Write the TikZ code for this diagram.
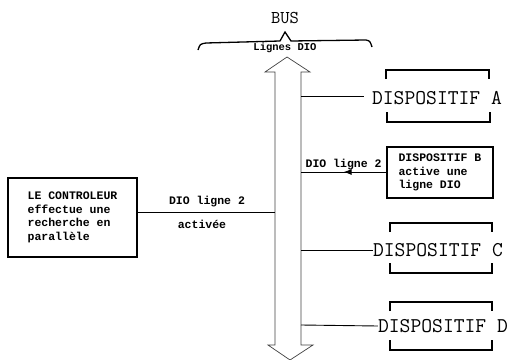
\documentclass[tikz,border=0pt]{standalone}
\usepackage{fontspec}
\newfontfamily\cour{Liberation Mono}
\usetikzlibrary{arrows.meta,decorations.markings}
\tikzset{
  big/.style={font=\ttfamily\fontsize{21}{23}\selectfont, inner sep=0pt},
  small/.style={font=\cour\bfseries\fontsize{11.5}{13.5}\selectfont, inner sep=0pt},
  boxed/.style={draw, line width=1.6pt, align=left, inner xsep=8pt, inner ysep=5pt},
  wire/.style={line width=0.9pt},
  brk/.style={line width=1.4pt},
  midarrow/.style={postaction={decorate}, decoration={markings, mark=at position 0.5 with {\arrow{Latex[length=8pt,width=6pt]}}}}
}
\begin{document}
\begin{tikzpicture}[x=1pt,y=-1pt]
\useasboundingbox (0,0) rectangle (509,359);
% titles
\node[font=\ttfamily\fontsize{18}{20}\selectfont, inner sep=0pt] (bus) at (285,18) {BUS};
\draw[line width=1.3pt] (198,50) .. controls (200,44) .. (206,43) -- (280,41) -- (285,32) -- (291,41) -- (366,40) .. controls (370,41) .. (372,47);
\node[small, font=\cour\bfseries\fontsize{10.5}{12}\selectfont] (lignes) at (285,48) {Lignes DIO};
% bus double arrow
\draw[line width=0.7pt, draw=black!75] (275,72) -- (265,72) -- (287,57) -- (310,72) -- (301,72)
  -- (301,345) -- (313,345) -- (290,360) -- (268,345) -- (275,345) -- cycle;
\coordinate (busA) at (301,96);
\coordinate (busB) at (301,172);
\coordinate (busL) at (275,212);
\coordinate (busC) at (301,250);
\coordinate (busD) at (301,325);
% device A
\node[big] (devA) at (437,98) {DISPOSITIF A};
\draw[brk] (386,79) -- (386,70) -- (489,70) -- (489,79);
\draw[brk] (387,112) -- (387,122) -- (490,122) -- (490,112);
\draw[wire] (busA) -- (364,96);
% device B
\node[small, boxed, minimum width=106pt, minimum height=51pt] (devB) at (440,172.5) {DISPOSITIF B\\active une\\ligne DIO};
\draw[wire, midarrow] (devB.west |- busB) -- (busB) node[pos=0.5, above=2pt, small] (lblB) {DIO ligne 2};
% controller
\node[small, boxed, minimum width=129pt, minimum height=79pt] (ctrl) at (72.5,217.5) {LE CONTROLEUR\\effectue une\\recherche en\\parallèle};
\draw[wire] (ctrl.east |- busL) -- (busL);
\node[small] (lblL1) at (207,202) {DIO ligne 2};
\node[small] (lblL2) at (202,224) {activée};
% device C
\node[big] (devC) at (438,250) {DISPOSITIF C};
\draw[brk] (390,232) -- (390,223) -- (492,223) -- (492,232);
\draw[brk] (390,263) -- (390,273) -- (492,273) -- (492,263);
\draw[wire] (busC) -- (devC.west);
% device D
\node[big] (devD) at (443,326) {DISPOSITIF D};
\draw[brk] (390,311) -- (390,302) -- (492,302) -- (492,311);
\draw[brk] (390,340) -- (390,350) -- (492,350) -- (492,340);
\draw[wire] (busD) -- (devD.west);
\end{tikzpicture}
\end{document}
